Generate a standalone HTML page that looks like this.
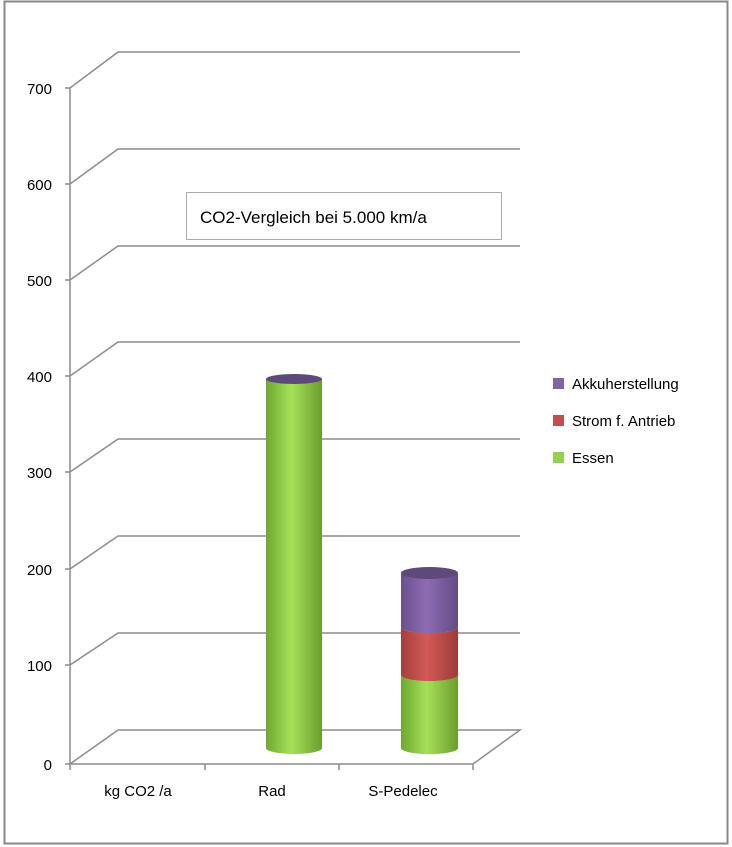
<!DOCTYPE html><html><head><style>body{margin:0;background:#fff}svg{display:block}text{font-family:"Liberation Sans",sans-serif;fill:#000}</style></head><body>
<svg width="732" height="847" viewBox="0 0 732 847">
<defs>
<linearGradient id="g" x1="0" x2="1"><stop offset="0" stop-color="#6ea82f"/><stop offset=".45" stop-color="#a6e05a"/><stop offset="1" stop-color="#6a9e2c"/></linearGradient>
<linearGradient id="r" x1="0" x2="1"><stop offset="0" stop-color="#a43f3c"/><stop offset=".45" stop-color="#d35a57"/><stop offset="1" stop-color="#9c3b38"/></linearGradient>
<linearGradient id="p" x1="0" x2="1"><stop offset="0" stop-color="#6a4f8c"/><stop offset=".45" stop-color="#8e6cb4"/><stop offset="1" stop-color="#634b84"/></linearGradient>
</defs>
<rect x="4.5" y="1.5" width="723" height="842" fill="#fff" stroke="#888" stroke-width="2"/>
<g stroke="#8c8c8c" stroke-width="1.5" fill="none">
<path d="M70 88L118 52H520M70 184L118 149H520M70 280L118 246H520M70 376L118 342H520M70 472L118 439H520M70 569L118 536H520M70 665L118 633H520M70 764L118 730H520L473 764H70"/>
<path d="M70 88V764M65 88H70M65 184H70M65 280H70M65 376H70M65 472H70M65 569H70M65 665H70M65 764H70M70 764V770M205 764V770M339 764V770M473 764V770"/>
</g>
<g font-size="15" text-anchor="end"><text x="52" y="94">700</text><text x="52" y="190">600</text><text x="52" y="286">500</text><text x="52" y="382">400</text><text x="52" y="478">300</text><text x="52" y="575">200</text><text x="52" y="671">100</text><text x="52" y="770">0</text></g>
<g font-size="15" text-anchor="middle"><text x="138" y="796">kg CO2 /a</text><text x="272" y="796">Rad</text><text x="403" y="796">S-Pedelec</text></g>
<rect x="186.5" y="192.5" width="315" height="47" fill="#fff" stroke="#aaa"/>
<text x="200" y="223" font-size="17">CO2-Vergleich bei  5.000 km/a</text>
<path d="M266 379V748A28 6 0 0 0 322 748V379Z" fill="url(#g)"/>
<ellipse cx="294" cy="379" rx="28" ry="5" fill="#5e4a7a"/>
<path d="M401 675V748A28 6 0 0 0 458 748V675A28 6 0 0 1 401 675Z" fill="url(#g)"/>
<path d="M401 627V675A28 6 0 0 0 458 675V627A28 6 0 0 1 401 627Z" fill="url(#r)"/>
<path d="M401 574V627A28 6 0 0 0 458 627V574Z" fill="url(#p)"/>
<ellipse cx="429.5" cy="573" rx="28.5" ry="6" fill="#5e4a7a"/>
<rect x="553" y="378" width="11" height="11" fill="#8064a2"/>
<rect x="553" y="415" width="11" height="11" fill="#c0504d"/>
<rect x="553" y="452" width="11" height="11" fill="#92d050"/>
<g font-size="15"><text x="572" y="389">Akkuherstellung</text><text x="572" y="426">Strom f. Antrieb</text><text x="572" y="463">Essen</text></g>
</svg></body></html>
